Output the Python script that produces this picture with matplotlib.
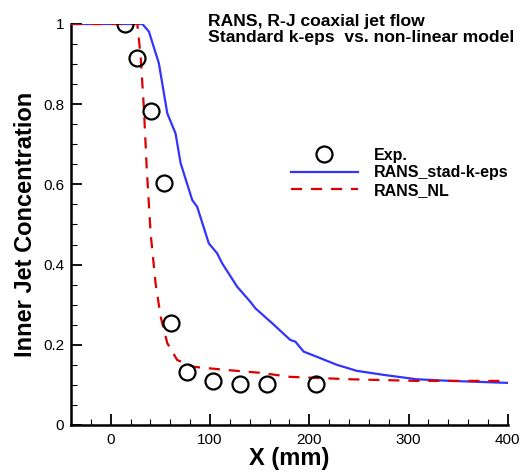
"""R-J coaxial jet: inner jet concentration, RANS k-eps vs non-linear model."""
import matplotlib
matplotlib.use('Agg')
import matplotlib.pyplot as plt
from matplotlib.ticker import MultipleLocator

plt.rcParams['font.family'] = ['Liberation Sans', 'DejaVu Sans']

# experimental points
exp_x = [14, 26, 41, 54, 61, 77, 103, 130, 157, 207]
exp_y = [1.0, 0.915, 0.783, 0.603, 0.254, 0.132, 0.110, 0.102, 0.102, 0.102]

# standard k-eps
ke_x = [-40, 0, 31.9, 38.5, 48.5, 57, 65.3, 70.4, 82.1, 87.1, 98.8, 107.2, 112.3,
        127.3, 140.7, 145.7, 162.5, 180.9, 185.9, 194.3, 207.7, 227.8, 247.9,
        274.7, 308.2, 341.7, 400]
ke_y = [1.0, 1.0, 1.0, 0.981, 0.902, 0.777, 0.727, 0.653, 0.561, 0.544, 0.453,
        0.428, 0.403, 0.345, 0.307, 0.291, 0.254, 0.212, 0.208, 0.183, 0.170,
        0.150, 0.135, 0.125, 0.114, 0.110, 0.105]

# non-linear model
nl_x = [-40, 0, 26.8, 30.2, 33.5, 36.2, 40.2, 45.2, 50.3, 57, 67, 83.7, 117.3,
        150.8, 180.9, 241.2, 308, 400]
nl_y = [1.0, 1.0, 1.0, 0.918, 0.786, 0.644, 0.478, 0.353, 0.270, 0.204, 0.162,
        0.145, 0.137, 0.130, 0.120, 0.114, 0.110, 0.110]

fig = plt.figure(figsize=(5.27, 4.75), dpi=100)
ax = fig.add_axes([0.1347, 0.1053, 0.829, 0.8442])

ax.plot(exp_x, exp_y, linestyle='none', marker='o', markersize=11.5,
        markerfacecolor='none', markeredgecolor='black', markeredgewidth=1.6,
        label='Exp.', zorder=4)
ax.plot(ke_x, ke_y, color='#3333ff', linewidth=1.6, label='RANS_stad-k-eps', zorder=2)
ax.plot(nl_x, nl_y, color='#dd0000', linewidth=1.6, dashes=(5, 4),
        label='RANS_NL', zorder=3)

ax.set_xlim(-40, 400)
ax.set_ylim(0, 1)
ax.xaxis.set_major_locator(MultipleLocator(100))
ax.xaxis.set_minor_locator(MultipleLocator(20))
ax.yaxis.set_major_locator(MultipleLocator(0.2))
ax.yaxis.set_minor_locator(MultipleLocator(0.05))
ax.set_yticks([0, 0.2, 0.4, 0.6, 0.8, 1.0])
ax.set_yticklabels(['0', '0.2', '0.4', '0.6', '0.8', '1'])
ax.tick_params(which='both', direction='in', labelsize=11, width=1.3)
ax.tick_params(which='major', length=8)
ax.tick_params(which='minor', length=4, width=0.8)
ax.tick_params(axis='x', pad=6)
ax.tick_params(axis='y', pad=5)

for side in ('top', 'right'):
    ax.spines[side].set_visible(False)
for side in ('left', 'bottom'):
    ax.spines[side].set_linewidth(1.8)

ax.set_xlabel('X (mm)', fontsize=17, fontweight='bold', labelpad=0)
ax.set_ylabel('Inner Jet Concentration', fontsize=17, fontweight='bold', labelpad=4)

ax.text(0.314, 1.026, 'RANS, R-J coaxial jet flow\nStandard k-eps  vs. non-linear model',
        transform=ax.transAxes, fontsize=12.6, fontweight='bold', va='top',
        ha='left', linespacing=1.12)

leg = ax.legend(loc='upper left', bbox_to_anchor=(0.47, 0.727), frameon=False,
                handlelength=4.2, handletextpad=1.0, labelspacing=0.15,
                prop={'weight': 'bold', 'size': 11.5})

fig.savefig('out.png', dpi=100)
